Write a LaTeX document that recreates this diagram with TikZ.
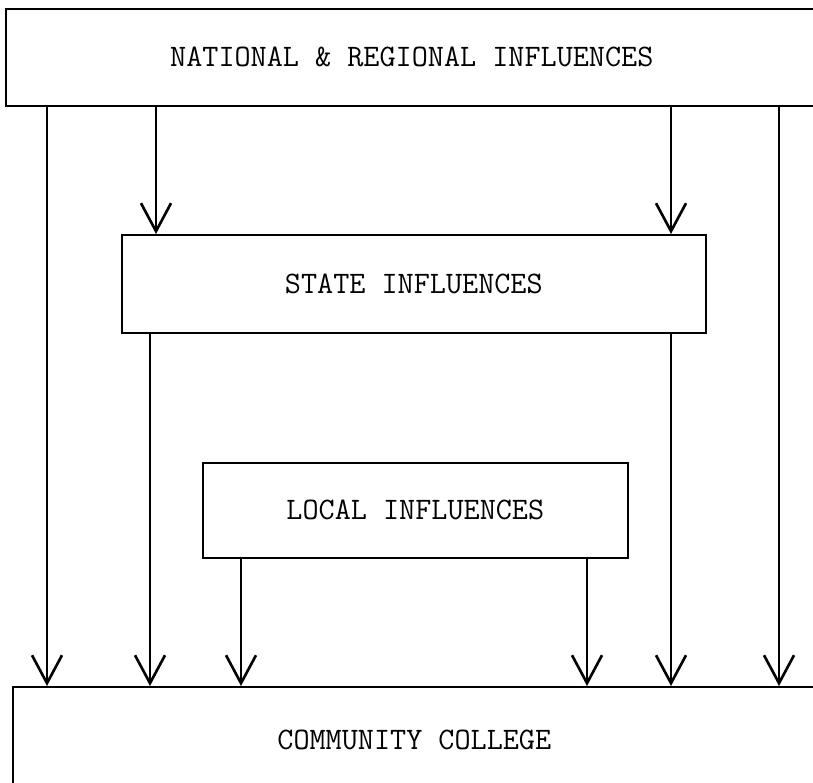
\documentclass[tikz,border=0pt]{standalone}
\usetikzlibrary{arrows.meta}

\begin{document}
\begin{tikzpicture}[x=0.02cm, y=-0.02cm, line width=1pt,
  box/.style={draw, rectangle, anchor=north west, inner sep=0pt,
    font=\ttfamily\fontsize{17.8}{21}\selectfont},
  flow/.style={-{Straight Barb[length=0.56cm, width=0.6cm, line width=1.5pt]}}]
\useasboundingbox (0,0) rectangle (813,782);
\clip (0,0) rectangle (813,782);

\def\xa{47}
\def\xb{156}
\def\xc{150}
\def\xd{241}
\def\xe{587}
\def\xf{671}
\def\xg{779}

\node[box, minimum width=16.24cm, minimum height=1.94cm] (national) at (5,8) {NATIONAL \& REGIONAL INFLUENCES};
\node[box, minimum width=11.68cm, minimum height=1.96cm] (state) at (121,234) {STATE INFLUENCES};
\node[box, minimum width=8.5cm, minimum height=1.9cm] (local) at (202,462) {LOCAL INFLUENCES};
\node[box, minimum width=16.06cm, minimum height=2.12cm] (college) at (12,686) {COMMUNITY COLLEGE};

\coordinate (a) at (\xa, 0);
\coordinate (b) at (\xb, 0);
\coordinate (c) at (\xc, 0);
\coordinate (d) at (\xd, 0);
\coordinate (e) at (\xe, 0);
\coordinate (f) at (\xf, 0);
\coordinate (g) at (\xg, 0);

% national
\draw[flow] (a |- national.south) -- (a |- college.north);
\draw[flow] (b |- national.south) -- (b |- state.north);
\draw[flow] (f |- national.south) -- (f |- state.north);
\draw[flow] (g |- national.south) -- (g |- college.north);
% state
\draw[flow] (c |- state.south) -- (c |- college.north);
\draw[flow] (f |- state.south) -- (f |- college.north);
% local
\draw[flow] (d |- local.south) -- (d |- college.north);
\draw[flow] (e |- local.south) -- (e |- college.north);
\end{tikzpicture}
\end{document}
